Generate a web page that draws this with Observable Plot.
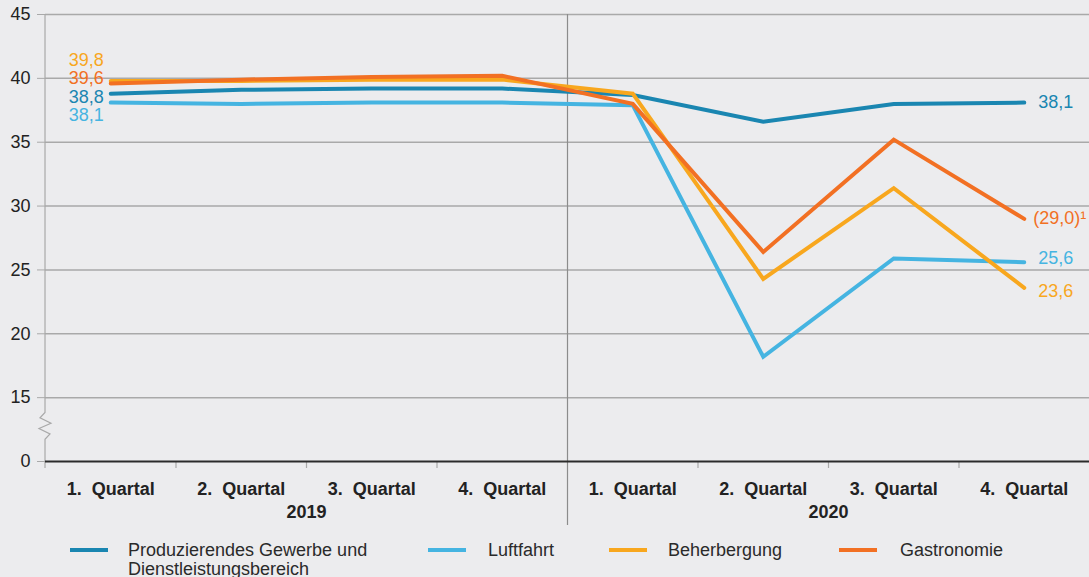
<!DOCTYPE html>
<html>
<head>
<meta charset="utf-8">
<script src="https://cdn.jsdelivr.net/npm/d3@7"></script>
<script src="https://cdn.jsdelivr.net/npm/@observablehq/plot@0.6"></script>
<style>
  html, body { margin: 0; padding: 0; background: #ececee; }
  body { width: 1089px; height: 577px; overflow: hidden; font-family: "Liberation Sans", Arial, Helvetica, sans-serif; }
  #chart svg { display: block; background: #ececee; font-family: "Liberation Sans", Arial, Helvetica, sans-serif; }
  #legend { position: relative; width: 1089px; height: 42px; }
  #legend .sw { position: absolute; width: 38px; height: 4px; top: 13px; }
  #legend .lb { position: absolute; top: 6px; font-size: 18px; line-height: 19px; color: #2a2a2a; }
</style>
</head>
<body>
<div id="chart"></div>
<div id="legend"></div>
<script>
// ---- data ----
const quarters = ["1. Quartal", "2. Quartal", "3. Quartal", "4. Quartal",
                  "1. Quartal", "2. Quartal", "3. Quartal", "4. Quartal"];
const years = ["2019", "2020"];
const seriesNames = ["Produzierendes Gewerbe und Dienstleistungsbereich", "Luftfahrt", "Beherbergung", "Gastronomie"];
const legendLabels = ["Produzierendes Gewerbe und\nDienstleistungsbereich", "Luftfahrt", "Beherbergung", "Gastronomie"];
const produzierendes = [38.8, 39.1, 39.2, 39.2, 38.7, 36.6, 38.0, 38.1];
const luftfahrt      = [38.1, 38.0, 38.1, 38.1, 37.9, 18.2, 25.9, 25.6];
const beherbergung   = [39.8, 39.8, 39.9, 39.9, 38.8, 24.3, 31.4, 23.6];
const gastronomie    = [39.6, 39.9, 40.1, 40.2, 38.0, 26.4, 35.2, 29.0];
const colors = ["#1a86b1", "#45b4e1", "#f8a71e", "#f27023"];
// axis break: the bottom tick (position 10) is labelled "0"
const yTicks = [10, 15, 20, 25, 30, 35, 40, 45];
const yTickLabels = ["0", "15", "20", "25", "30", "35", "40", "45"];
const footnoteSeries = "Gastronomie"; // last value shown as "(29,0)¹"

// ---- build table ----
const seriesValues = [produzierendes, luftfahrt, beherbergung, gastronomie];
const rows = [];
seriesNames.forEach((s, k) => seriesValues[k].forEach((v, i) => rows.push({series: s, i, value: v})));
const fmt = v => v.toFixed(1).replace(".", ",");
const first = rows.filter(d => d.i === 0);
const last = rows.filter(d => d.i === quarters.length - 1);
const lastText = d => d.series === footnoteSeries ? `(${fmt(d.value)})\u00b9` : fmt(d.value);

const grid = "#a9a9a9";
const ink = "#222";
const FS = 18;

// label offsets (pixels) to separate crowded labels
const leftDy = {"Produzierendes Gewerbe und Dienstleistungsbereich": 4, "Luftfahrt": 13, "Beherbergung": -21, "Gastronomie": -5};
const rightDy = {"Produzierendes Gewerbe und Dienstleistungsbereich": 0, "Luftfahrt": -4, "Beherbergung": 3, "Gastronomie": -1};
const rightDx = {"Produzierendes Gewerbe und Dienstleistungsbereich": 14, "Luftfahrt": 14, "Beherbergung": 14, "Gastronomie": 9};

const colorOf = s => colors[seriesNames.indexOf(s)];

// y-axis line with break zigzag, drawn through the y scale
const breakAxis = (index, scales, values, dims) => {
  const x0 = dims.marginLeft;
  const y = scales.y;
  const a = y(13.8), b = y(11.7);
  const h = (b - a) / 5;
  const d = `M${x0},${y(45)}V${a}L${x0 - 5},${a + h}L${x0 + 6},${a + 2 * h}L${x0 - 6},${a + 3 * h}L${x0 + 5},${a + 4 * h}L${x0},${b}V${y(10) + 7}`;
  const p = document.createElementNS("http://www.w3.org/2000/svg", "path");
  p.setAttribute("d", d);
  p.setAttribute("fill", "none");
  p.setAttribute("stroke", grid);
  p.setAttribute("stroke-width", 1.2);
  return p;
};

const boundaries = d3.range(quarters.length + 1).map(i => i - 0.5).filter(v => v !== 3.5 && v > -0.5 && v < quarters.length - 0.5);

const marks = [
  Plot.ruleY(yTicks.filter(t => t > 10), {y: d => d, stroke: grid, strokeWidth: 1.5}),
  Plot.axisY(yTicks, {tickSize: 8, tickPadding: 7, stroke: grid, fill: ink, fontSize: FS,
    tickFormat: d => yTickLabels[yTicks.indexOf(d)], label: null}),
  breakAxis,
  Plot.ruleX(boundaries, {x: d => d, y1: 10, y2: 10, insetBottom: -7, stroke: grid, strokeWidth: 1.2}),
  Plot.ruleX([3.5], {x: d => d, y1: 45, y2: 10, insetBottom: -64, stroke: "#8c8c8c", strokeWidth: 1.2}),
  Plot.ruleY([10], {y: d => d, stroke: "#2b2b2b", strokeWidth: 2}),
  Plot.text(quarters, {x: (d, i) => i, y: () => 10, dy: 28, text: d => d.replace(" ", "\u00a0\u00a0"),
    fontWeight: "bold", fontSize: FS, fill: ink}),
  Plot.text(years, {x: (d, i) => i * 4 + 1.5, y: () => 10, dy: 51, text: d => d,
    fontWeight: "bold", fontSize: FS, fill: ink}),
  Plot.line(rows, {x: "i", y: "value", z: "series", stroke: "series", strokeWidth: 4, strokeLinejoin: "miter", strokeMiterlimit: 10}),
  ...first.map(d => Plot.text([d], {x: "i", y: "value", text: r => fmt(r.value), fill: colorOf(d.series),
    textAnchor: "end", dx: -7, dy: leftDy[d.series], fontSize: FS})),
  ...last.map(d => Plot.text([d], {x: "i", y: "value", text: lastText, fill: colorOf(d.series),
    textAnchor: "start", dx: rightDx[d.series], dy: rightDy[d.series], fontSize: FS}))
];

const chart = Plot.plot({
  width: 1089,
  height: 535,
  marginTop: 14,
  marginBottom: 74,
  marginLeft: 45,
  marginRight: 0,
  style: {background: "#ececee", fontFamily: "Liberation Sans, Arial, sans-serif"},
  x: {type: "linear", domain: [-0.5, quarters.length - 0.5], axis: null},
  y: {domain: [10, 45], axis: null},
  color: {domain: seriesNames, range: colors},
  marks
});
document.getElementById("chart").appendChild(chart);

// ---- legend ----
const legendSwatchX = [70, 428, 609, 839];
const legendTextX = [128, 488, 668, 900];
const legend = d3.select("#legend");
seriesNames.forEach((s, k) => {
  legend.append("div").attr("class", "sw").style("left", legendSwatchX[k] + "px").style("background", colors[k]);
  legend.append("div").attr("class", "lb").style("left", legendTextX[k] + "px")
    .html(legendLabels[k].replace("\n", "<br>"));
});
</script>
</body>
</html>
